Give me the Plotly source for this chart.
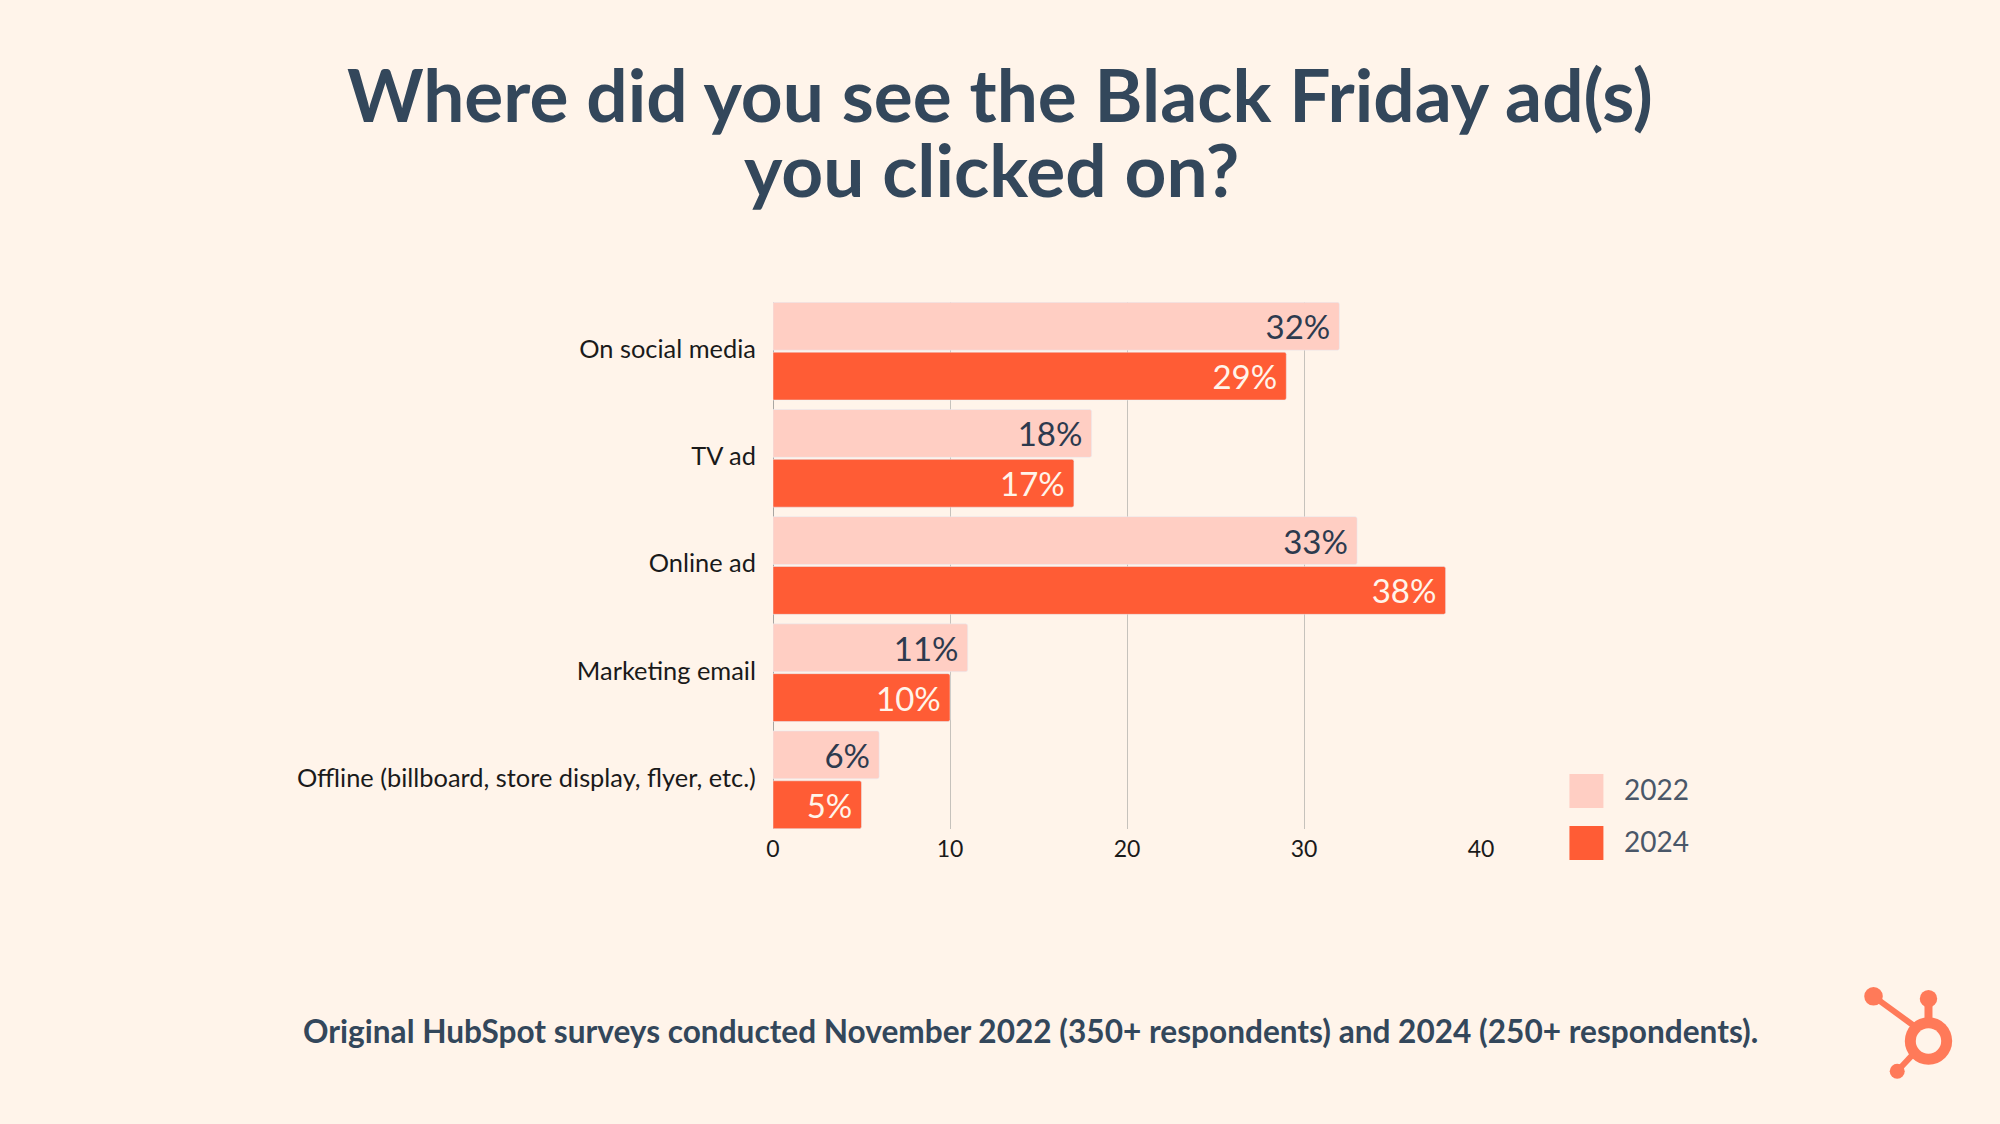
import plotly.graph_objects as go

W = 2000
H = 1124
# Plot area in page pixels
LEFT = 773
RIGHT = 1481.5
TOP = 302
BOTTOM = 829

def px_x(x):
    return (x - LEFT) / (RIGHT - LEFT)  # page pixel to paper x

def px_y(y):
    return 1 - (y - TOP) / (BOTTOM - TOP)  # page pixel to paper y

# Survey answers, top to bottom
categories = ["On social media", "TV ad", "Online ad", "Marketing email", "Offline (billboard, store display, flyer, etc.)"]
values_2022 = [32, 18, 33, 11, 6]
values_2024 = [29, 17, 38, 10, 5]

bg_color = "#FFF4EA"
color_2022 = "#FFCEC3"
color_2024 = "#FF5C35"
logo_color = "#FF7A59"
navy = "#33475B"

# -------------------------------------------------
# Bars
# -------------------------------------------------
fig = go.Figure()

fig.add_trace(go.Bar(
    y=categories,
    x=values_2022,
    name="2022",
    orientation='h',
    marker=dict(color=color_2022, cornerradius=2),
    text=[f"{v}%\u2009\u200a" for v in values_2022],
    textposition='inside',
    insidetextanchor='end',
    textangle=0,
    constraintext='none',
    textfont=dict(family="Lato", size=33, color="#2D3A4E"),  # dark on the pale bars
))

fig.add_trace(go.Bar(
    y=categories,
    x=values_2024,
    name="2024",
    orientation='h',
    marker=dict(color=color_2024, cornerradius=2),
    text=[f"{v}%\u2009\u200a" for v in values_2024],
    textposition='inside',
    insidetextanchor='end',
    textangle=0,
    constraintext='none',
    textfont=dict(family="Lato", size=33, color="#FFF4EA"),  # cream on the strong bars
))

# -------------------------------------------------
# Legend squares, footer and logo
# -------------------------------------------------
shapes = []
for top, color in [(774, color_2022), (826, color_2024)]:
    shapes.append(dict(type="rect", xref="paper", yref="paper",
                       x0=px_x(1570), x1=px_x(1604), y0=px_y(top), y1=px_y(top + 34),
                       fillcolor=color, line=dict(width=0)))

# Logo: spokes first, then the hub and the nodes
for x0, y0, x1, y1, width in [(1929.3, 1000, 1929.3, 1030, 8), (1874.3, 996.3, 1915, 1026, 6), (1898, 1071.3, 1915, 1053, 6)]:
    shapes.append(dict(type="line", xref="paper", yref="paper",
                       x0=px_x(x0), x1=px_x(x1), y0=px_y(y0), y1=px_y(y1),
                       line=dict(color=logo_color, width=width)))
for cx, cy, r, color in [(1929.3, 1041, 23.7, logo_color), (1929.3, 1041, 12.7, bg_color),
                         (1929.3, 998.7, 8.7, logo_color), (1874.3, 996.3, 9.3, logo_color),
                         (1898, 1071.3, 7.5, logo_color)]:
    shapes.append(dict(type="circle", xref="paper", yref="paper",
                       x0=px_x(cx - r), x1=px_x(cx + r), y0=px_y(cy - r), y1=px_y(cy + r),
                       fillcolor=color, line=dict(width=0)))

annotations = [
    dict(text="<b>Where did you see the Black Friday ad(s)</b>", x=px_x(1000), y=px_y(93.5), xref="paper", yref="paper",
         xanchor="center", yanchor="middle", showarrow=False, font=dict(family="Lato", size=73, color=navy)),
    dict(text="<b>you clicked on?</b>", x=px_x(992), y=px_y(169.5), xref="paper", yref="paper",
         xanchor="center", yanchor="middle", showarrow=False, font=dict(family="Lato", size=73, color=navy)),
    dict(text="2022", x=px_x(1623), y=px_y(789), xref="paper", yref="paper", xanchor="left", yanchor="middle",
         showarrow=False, font=dict(family="Lato", size=28, color="#4A5768")),
    dict(text="2024", x=px_x(1623), y=px_y(841), xref="paper", yref="paper", xanchor="left", yanchor="middle",
         showarrow=False, font=dict(family="Lato", size=28, color="#4A5768")),
    dict(text="<b>Original HubSpot surveys conducted November 2022 (350+ respondents) and 2024 (250+ respondents).</b>",
         x=px_x(1031), y=px_y(1031), xref="paper", yref="paper", xanchor="center", yanchor="middle",
         showarrow=False, font=dict(family="Lato", size=31.6, color=navy)),
]

# Layout customization
fig.update_layout(
    width=W,
    height=H,
    margin=dict(l=LEFT, r=W - RIGHT, t=TOP, b=H - BOTTOM),
    paper_bgcolor=bg_color,
    plot_bgcolor=bg_color,
    barmode='group',
    bargap=0.07,
    bargroupgap=0.04,
    showlegend=False,
    shapes=shapes,
    annotations=annotations,
    xaxis=dict(
        range=[0, 40],
        dtick=10,
        showgrid=True,
        gridcolor="#C6C2BC",
        gridwidth=1,
        zeroline=True,
        zerolinecolor="#A9A6A2",
        zerolinewidth=1,
        tickfont=dict(family="Lato", size=23, color="#1A1A1A"),
        ticklabelstandoff=4,
    ),
    yaxis=dict(
        categoryorder="array",
        categoryarray=categories,
        range=[4.459, -0.459],  # first category on top, bars flush with the plot edge
        showgrid=False,
        tickfont=dict(family="Lato", size=25.4, color="#1A1A1A"),
        ticks="outside",
        ticklen=11,
        tickcolor=bg_color,
        ticklabelshift=2,
    ),
)

fig.write_html("out.html", config=dict(displayModeBar=False), post_script="document.body.style.margin='0';")
